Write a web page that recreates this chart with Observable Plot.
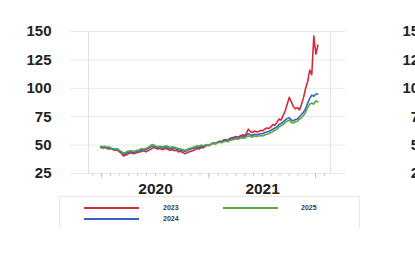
<!DOCTYPE html>
<html><head><meta charset="utf-8">
<script src="https://cdn.jsdelivr.net/npm/d3@7"></script>
<script src="https://cdn.jsdelivr.net/npm/@observablehq/plot@0.6"></script>
<style>
body{margin:0;background:#fff;font-family:"Liberation Sans",Arial,sans-serif;overflow:hidden;}
#chart svg{overflow:visible;display:block;}
#legend{position:relative;margin-left:59px;width:301px;height:32px;border:1px solid #e6e6e6;border-bottom:none;box-sizing:border-box;}
.sw{position:absolute;height:2px;width:55px;}
.lb{position:absolute;font-size:7px;font-weight:bold;color:#3a3a3a;line-height:8px;}
</style></head><body><div id="chart"></div><div id="legend"></div>
<script>
const seriesNames = ["2023", "2024", "2025"];
const seriesColors = ["#d62a3a", "#3d5fc4", "#55ab3e"];
const startDate = "2019-06-28"; // weekly observations from here
const red = [48,47.5,48,47,46.5,47,46,45.5,46,44,43,
  40.5,41,42,43,
  43,42.5,43,43.5,44,44.5,45,44,45,46,47,
  48,47,46.5,47,46,46.5,47,46,45.5,46,
  45,45.5,44,44.5,43.5,42.5,43,44,44.5,45,
  46,47,46.5,48,47.5,49,50,49.5,51,52,
  51,52.5,53.5,53,54.5,55,54,56,56.5,57,
  57.5,57,58,59,58.5,60,64,
  62,61,62.5,61.5,62,63,62.5,64,
  65,64.5,66,68,67.5,70,73,
  72,76,80,86,92,
  88,84,82,83,81,
  86,92,100,106,116,112,146,130,138];
const blue = [48.5,48,48.5,47.5,47.5,47,46.5,46,46.5,45,44,
  42,42.5,43.5,44,
  44,43.5,44,44.5,45,46,45.5,46,47,48,49,
  49,48,47.5,48,47.5,48,48.5,47.5,47,47.5,
  47,46.5,46,45.5,45,44.5,45,46,46.5,47,
  47.5,48.5,48,49,48.5,49.5,50,50,51,52,
  51.5,52.5,53,52.5,54,54.5,54,55,55.5,56,
  56.5,56,57,57.5,57,58.5,60,
  59,58.5,59.5,59,59.5,60,60,61,
  61.5,62,63,64,65,66,68,
  69,70.5,72,73.5,74,
  72,71.5,72.5,73,75,
  77,79,82,87,91,94,93,95,95];
const green = [49,48.5,49,48,48.5,47.5,47,46.5,47,45.5,44.5,
  43,43.5,44.5,45,
  45,44.5,45,45.5,46,47,46.5,47,48,49,50.5,
  50,49,48.5,49,48.5,49,49.5,48.5,48,48.5,
  48,47.5,47,46.5,46,45.5,46,47,47.5,48,
  48.5,49.5,49,50,49.5,50,50.5,50,51,51.5,
  51,52,52.5,52,53,53.5,53,54,54.5,55,
  55.5,55,56,56.5,56,57,58,
  57.5,57,58,57.5,58,58.5,58,59,
  59.5,60,61,62,63,64,66,
  67,68,70,71,72,
  70,69.5,70.5,71,73,
  74,76,79,83,86,87,86,89,88];
const yTicks = [25, 50, 75, 100, 125, 150];
const xLabels = ["2020", "2021"];

const parse = d3.utcParse("%Y-%m-%d");
const start = parse(startDate);
const data = [];
[red, blue, green].forEach((arr, k) => arr.forEach((v, i) =>
  data.push({date: d3.utcDay.offset(start, 7 * i), value: v, series: seriesNames[k]})));

const d0 = parse("2019-05-17"), d1 = parse("2021-08-21");
const g0 = parse("2019-03-16"), g1 = parse("2021-10-12");
const months = d3.utcMonth.range(d0, d1);
const julys = months.filter(d => d.getUTCMonth() === 6);
const yearDates = xLabels.map(y => parse(y + "-01-01"));

const chart = Plot.plot({
  width: 415, height: 196,
  marginTop: 31, marginBottom: 23, marginLeft: 88, marginRight: 85,
  style: {background: "#fff", color: "#222", fontFamily: "'Liberation Sans', Arial, sans-serif"},
  x: {type: "utc", domain: [d0, d1]},
  y: {domain: [25, 150]},
  color: {domain: seriesNames, range: seriesColors},
  marks: [
    Plot.ruleY(yTicks, {x1: g0, x2: g1, stroke: "#e8e8e8", strokeWidth: 1}),
    Plot.ruleX([d0, d1], {y1: 25, y2: 150, stroke: "#e2e2e2"}),
    Plot.axisX(months, {tickSize: 3, tickFormat: () => "", stroke: "#cfcfcf", label: null}),
    Plot.axisX(julys, {tickSize: 5, tickFormat: () => "", stroke: "#c4c4c4", label: null}),
    Plot.axisX(yearDates, {tickSize: 0, tickPadding: 9, tickFormat: "%Y", fontSize: 15.5, fontWeight: "bold", fill: "#222", label: null}),
    Plot.axisY(yTicks, {tickSize: 0, tickPadding: 37, fontSize: 15, fontWeight: "bold", fill: "#222", label: null}),
    Plot.axisY(yTicks, {anchor: "right", tickSize: 0, tickPadding: 0, textAnchor: "end", dx: 97, fontSize: 15, fontWeight: "bold", fill: "#222", label: null}),
    Plot.lineY(data, {x: "date", y: "value", stroke: "series", strokeWidth: 1.6, z: "series"})
  ]
});
document.getElementById("chart").append(chart);

const legend = document.getElementById("legend");
const pos = [[24, 10, 103], [24, 21, 103], [163, 10, 241]];
seriesNames.forEach((name, i) => {
  const [sx, sy, lx] = pos[i];
  const sw = document.createElement("div");
  sw.className = "sw";
  sw.style.left = sx + "px"; sw.style.top = sy + "px"; sw.style.background = seriesColors[i];
  legend.append(sw);
  const lb = document.createElement("div");
  lb.className = "lb";
  lb.style.left = lx + "px"; lb.style.top = (sy - 3) + "px";
  lb.textContent = name;
  legend.append(lb);
});
</script></body></html>
